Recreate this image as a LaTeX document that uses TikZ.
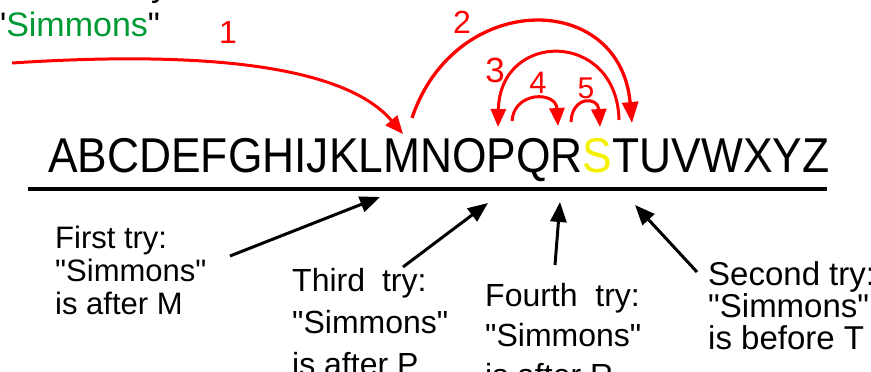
\documentclass[tikz,border=0pt]{standalone}
\usepackage{graphicx}
\usepackage{fontspec}
\setmainfont{Liberation Sans}[Ligatures=TeXOff]
\usetikzlibrary{arrows.meta}
\definecolor{tgreen}{RGB}{0,153,51}
\definecolor{tyellow}{RGB}{245,240,0}
\newcommand\capfont[2]{\fontsize{#1}{#2}\selectfont\lineskiplimit-50pt\relax}
\begin{document}
\begin{tikzpicture}[x=1pt,y=-1pt,
  redarrow/.style={draw=red, line width=3pt, -{Triangle[length=18pt,width=15pt]}},
  bigredarrow/.style={draw=red, line width=3.3pt, -{Triangle[length=21pt,width=16pt]}},
  blackarrow/.style={draw=black, line width=3pt, -{Triangle[length=20pt,width=16pt]}},
  numlabel/.style={text=red, inner sep=0pt},
  caption/.style={anchor=north west, inner sep=0pt, align=left}]
\useasboundingbox (0,0) rectangle (871,372);

% top text (cut off by the frame)
\node[anchor=base west, inner sep=0pt, font=\fontsize{34}{40}\selectfont] (prevline) at (151,-3) {y};
\node[anchor=base west, inner sep=0pt, font=\fontsize{34}{40}\selectfont] (search) at (-6,36) {"\textcolor{tgreen}{Simmons}"};

% alphabet
\node[anchor=base west, inner sep=0pt, font=\fontsize{48.9}{50}\selectfont] (alpha) at (48,172)
  {\scalebox{0.907}[1]{ABCDEFGHIJKLMNOPQR\textcolor{tyellow}{S}TUVWXYZ}};

% rule
\coordinate (ruleL) at (28,189);
\coordinate (ruleR) at (827,189);
\draw[line width=3.5pt] (ruleL) -- (ruleR);

% red jump arrows
\coordinate (a1s) at (12,63);   \coordinate (a1e) at (403,134);
\coordinate (a2s) at (412,118); \coordinate (a2e) at (632,123);
\coordinate (a3s) at (619,120); \coordinate (a3e) at (498,127);
\coordinate (a4s) at (512,121); \coordinate (a4e) at (558,126);
\coordinate (a5s) at (571,122); \coordinate (a5e) at (600,127);
\draw[redarrow] (a1s) .. controls (180,52) and (340,60) .. (a1e);
\draw[bigredarrow] (a2s) .. controls (455,-10) and (620,-10) .. (a2e);
\draw[redarrow] (a3s) .. controls (617,30) and (500,30) .. (a3e);
\draw[redarrow] (a4s) .. controls (514,91) and (556,91) .. (a4e);
\draw[redarrow] (a5s) .. controls (572,96) and (598,96) .. (a5e);

\node[numlabel, font=\fontsize{32}{36}\selectfont] (n1) at (228,32) {1};
\node[numlabel, font=\fontsize{32}{36}\selectfont] (n2) at (462,22) {2};
\node[numlabel, font=\fontsize{35}{38}\selectfont] (n3) at (495,70) {3};
\node[numlabel, font=\fontsize{31}{34}\selectfont] (n4) at (538,83) {4};
\node[numlabel, font=\fontsize{30}{34}\selectfont] (n5) at (586,88) {5};

% captions
\node[caption, font=\capfont{31}{33}] (first) at (55,226)
  {First try:\\"Simmons"\\is after M};
\node[caption, font=\capfont{32}{42}] (third) at (292,268)
  {Third\hspace{17pt}try:\\"Simmons"\\is after P};
\node[caption, font=\capfont{32}{40}] (fourth) at (485,283)
  {Fourth\ \ try:\\"Simmons"\\is after R};
\node[caption, font=\capfont{33}{32}] (second) at (708,261)
  {Second try:\\"Simmons"\\is before T};

% black pointers
\coordinate (b1s) at (230,256); \coordinate (b1e) at (380,197);
\coordinate (b3s) at (403,267); \coordinate (b3e) at (488,203);
\coordinate (b4s) at (555,265); \coordinate (b4e) at (560,202);
\coordinate (b2s) at (697,272); \coordinate (b2e) at (635,205);
\draw[blackarrow] (b1s) -- (b1e);
\draw[blackarrow] (b3s) -- (b3e);
\draw[blackarrow] (b4s) -- (b4e);
\draw[blackarrow] (b2s) -- (b2e);
\end{tikzpicture}
\end{document}
